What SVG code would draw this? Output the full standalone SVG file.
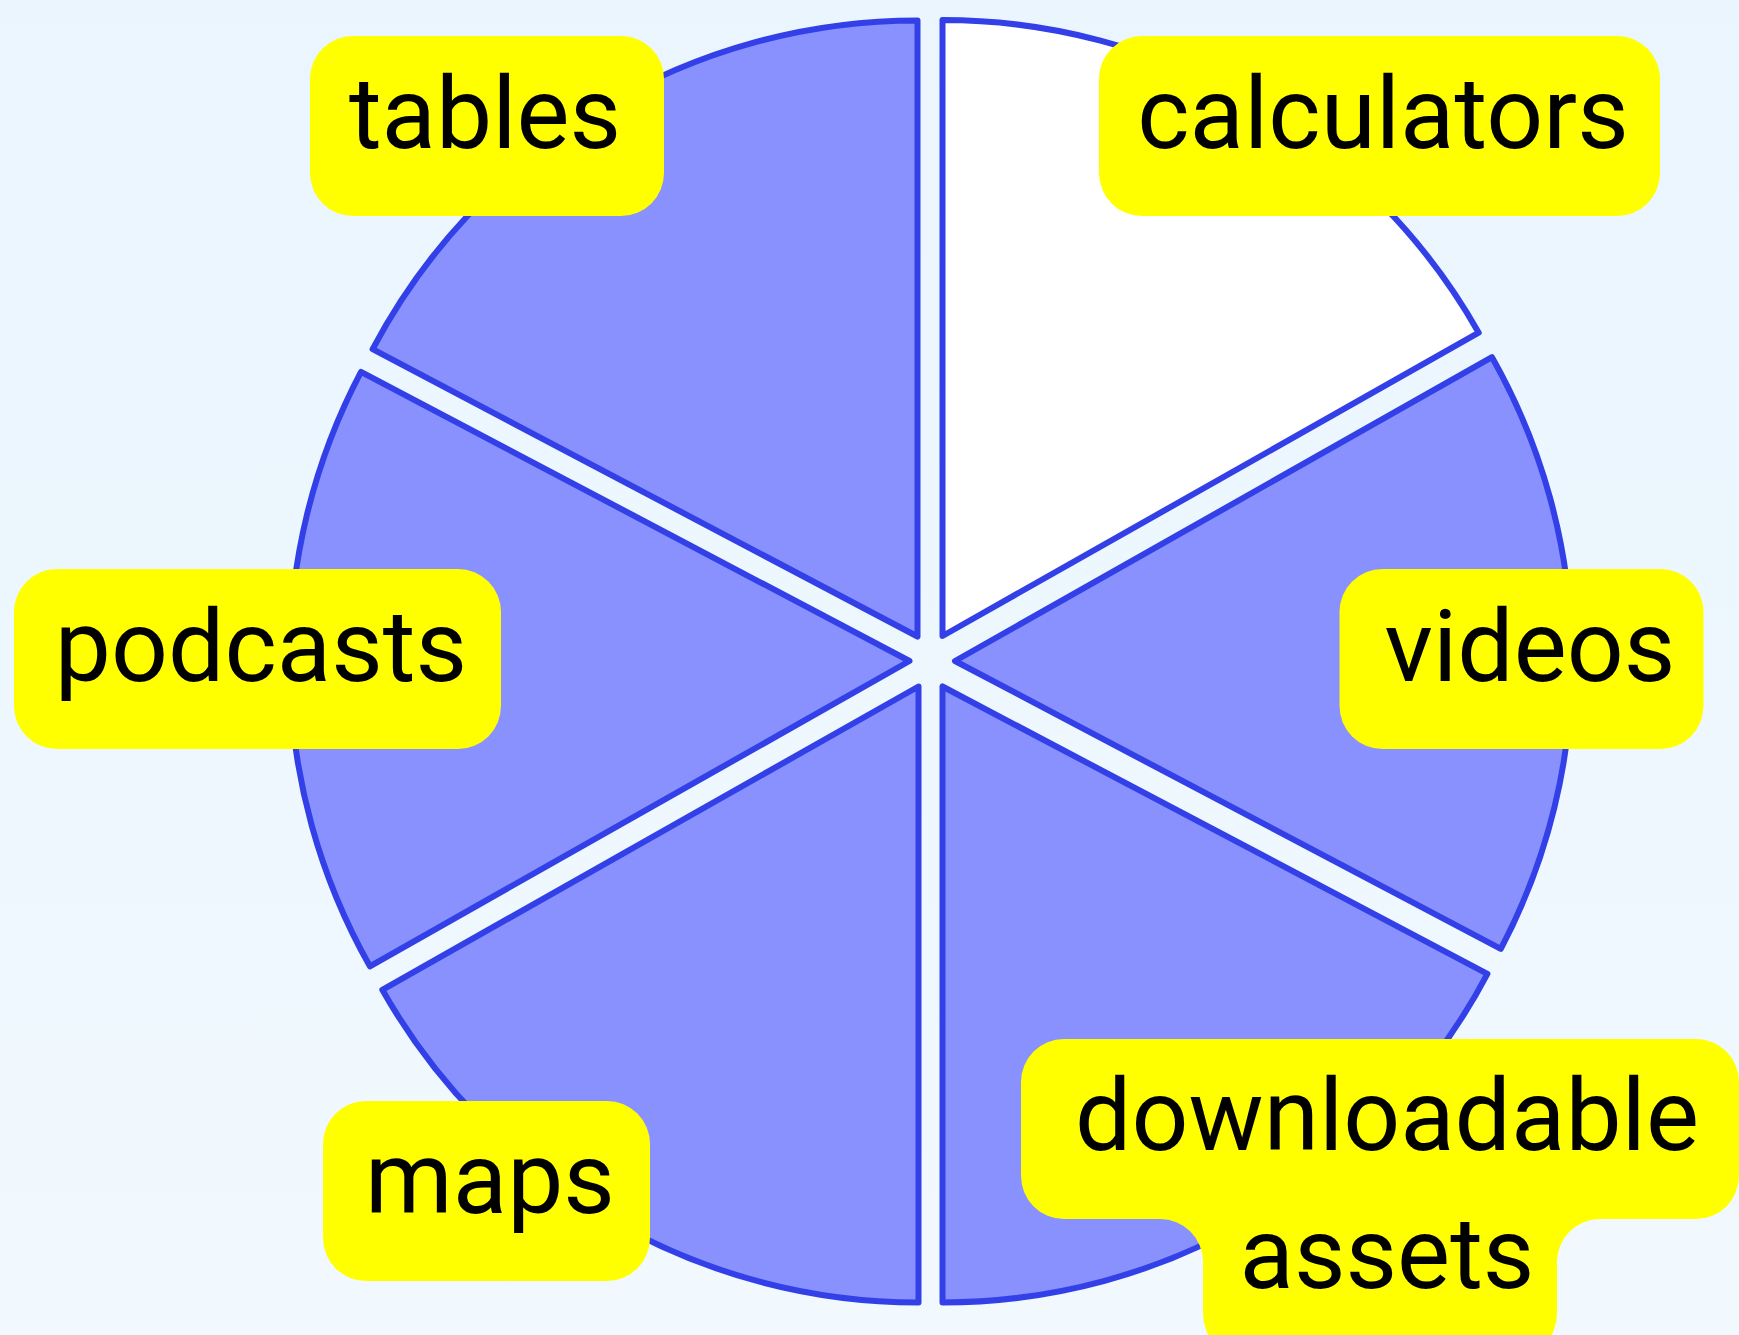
<svg xmlns="http://www.w3.org/2000/svg" width="1739" height="1335" viewBox="0 0 1739 1335">
  <defs>
    <linearGradient id="bg" x1="0" y1="0" x2="0" y2="1">
      <stop offset="0" stop-color="#EAF5FE"/>
      <stop offset="1" stop-color="#F1F9FE"/>
    </linearGradient>
    <style>
      .slice { fill: #8891FE; stroke: #3340E8; stroke-width: 6; stroke-linejoin: round; }
      .slice.light { fill: #FFFFFF; }
      .tag { fill: #FFFF00; }
      .label { font-family: Roboto, "Liberation Sans", sans-serif; font-size: 100px; fill: #000000; text-anchor: middle; }
    </style>
  </defs>

  <rect x="0" y="0" width="1739" height="1335" fill="url(#bg)"/>

  <!-- exploded pie: each wedge is shifted outward along its bisector -->
  <g id="node-calculators">
    <path class="slice light" d="M942.5 636 L1478.7 332.7 A616 616 0 0 0 942.5 20 Z"/>
    <rect class="tag" x="1099" y="36" width="561" height="180" rx="43" ry="43"/>
    <text class="label" x="1383" y="148">calculators</text>
  </g>

  <g id="node-tables">
    <path class="slice" d="M917.5 636.5 L917.5 20.5 A616 616 0 0 0 372.6 349.2 Z"/>
    <rect class="tag" x="310" y="36" width="354" height="180" rx="43" ry="43"/>
    <text class="label" x="485" y="148">tables</text>
  </g>

  <g id="node-podcasts">
    <path class="slice" d="M909.5 661 L361 371.8 A620 620 0 0 0 369.9 966.3 Z"/>
    <rect class="tag" x="14" y="569" width="487" height="180" rx="43" ry="43"/>
    <text class="label" x="261" y="681">podcasts</text>
  </g>

  <g id="node-maps">
    <path class="slice" d="M918.5 686.5 L382.3 989.8 A616 616 0 0 0 918.5 1302.5 Z"/>
    <rect class="tag" x="323" y="1101" width="327" height="180" rx="43" ry="43"/>
    <text class="label" x="490" y="1213">maps</text>
  </g>

  <g id="node-downloadable-assets">
    <path class="slice" d="M942.5 686.5 L942.5 1302.5 A616 616 0 0 0 1487.4 973.8 Z"/>
    <path class="tag" d="M1064 1039 H1696 A43 43 0 0 1 1739 1082 V1176 A43 43 0 0 1 1696 1219 H1600 A43 43 0 0 0 1557 1262 V1314 A43 43 0 0 1 1514 1357 H1246 A43 43 0 0 1 1203 1314 V1262 A43 43 0 0 0 1160 1219 H1064 A43 43 0 0 1 1021 1176 V1082 A43 43 0 0 1 1064 1039 Z"/>
    <text class="label" x="1387" y="1150">downloadable</text>
    <text class="label" x="1387" y="1288">assets</text>
  </g>

  <g id="node-videos">
    <path class="slice" d="M955 661 L1500.8 948.8 A617 617 0 0 0 1492 357.2 Z"/>
    <rect class="tag" x="1339.5" y="569" width="364" height="180" rx="43" ry="43"/>
    <text class="label" x="1530" y="681">videos</text>
  </g>
</svg>
